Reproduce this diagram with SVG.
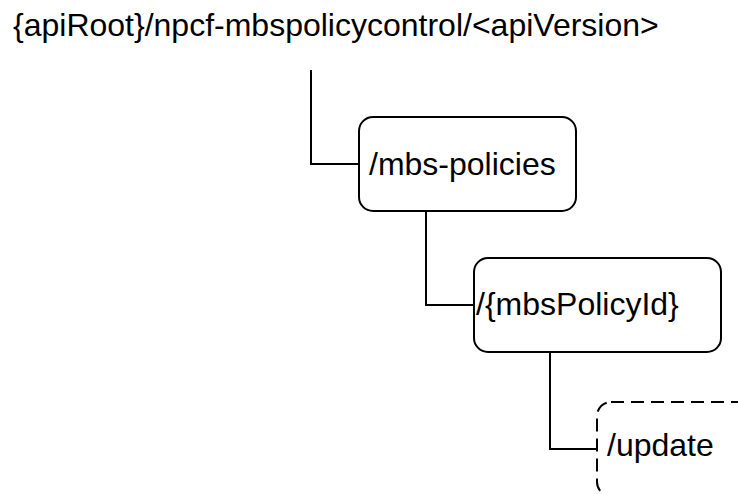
<svg xmlns="http://www.w3.org/2000/svg" width="738" height="494" viewBox="0 0 738 494">
<style>
  text { font-family: "Liberation Sans", Arial, sans-serif; font-size: 32px; fill: #000; }
  .box { fill: #fff; stroke: #000; stroke-width: 2; }
  .dash { fill: #fff; stroke: #000; stroke-width: 2; stroke-dasharray: 13 7; }
  .conn { fill: none; stroke: #000; stroke-width: 2; }
</style>
<rect width="738" height="494" fill="#fff"/>
<g id="root">
  <text x="13" y="36">{apiRoot}/npcf-mbspolicycontrol/&lt;apiVersion&gt;</text>
</g>
<g id="connectors">
  <path class="conn" d="M311 70 V164 H359"/>
  <path class="conn" d="M426 211 V305 H474"/>
  <path class="conn" d="M550 352 V449 H597"/>
</g>
<g id="mbs-policies">
  <rect class="box" x="359" y="117" width="217" height="94" rx="14"/>
  <text x="369" y="175">/mbs-policies</text>
</g>
<g id="mbsPolicyId">
  <rect class="box" x="474" y="258" width="247" height="94" rx="14"/>
  <text x="476" y="315">/{mbsPolicyId}</text>
</g>
<g id="update">
  <rect class="dash" x="597" y="402" width="247" height="94" rx="14"/>
  <text x="607" y="456">/update</text>
</g>
</svg>
